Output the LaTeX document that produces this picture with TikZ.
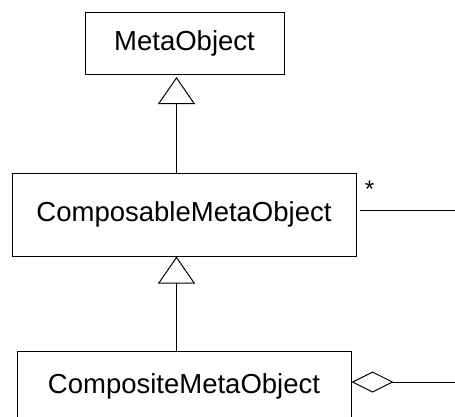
\documentclass[tikz,border=0pt]{standalone}
\usepackage{fontspec}
\setmainfont{Liberation Sans}
\usetikzlibrary{arrows.meta}
\begin{document}
\begin{tikzpicture}[x=1pt,y=-1pt,
  classbox/.style={draw, line width=1pt, fill=white, inner sep=0pt,
    font=\fontsize{27.5}{32}\selectfont},
  generalize/.style={line width=1pt,
    -{Triangle[open, length=27pt, width=37pt, fill=white]}},
  aggregate/.style={line width=1pt,
    {Diamond[open, length=42pt, width=21pt, fill=white]}-},
  assoc/.style={line width=1pt},
  mult/.style={font=\fontsize{24}{26}\selectfont, inner sep=0pt}]
  \clip (0,0) rectangle (455,416);
  \useasboundingbox (0,0) rectangle (455,416);

  % class boxes
  \node[classbox, minimum width=199pt, minimum height=62pt] (meta) at (184.5,43) {MetaObject};
  \node[classbox, minimum width=344pt, minimum height=83pt] (composable) at (184,214.5) {ComposableMetaObject};
  \node[classbox, minimum width=334pt, minimum height=70pt] (composite) at (184,386) {CompositeMetaObject};

  % generalization arrows, drawn on a common vertical
  \coordinate (spine) at (176.5,0);
  \draw[generalize, shorten >=2.5pt] (composable.north -| spine) -- (meta.south -| spine);
  \draw[generalize] (composite.north -| spine) -- (composable.south -| spine);

  % outgoing association ends
  \coordinate (compEnd) at (455,210);
  \coordinate (aggEnd) at (455,382);
  \draw[assoc, shorten <=3pt] (composable.east |- compEnd) -- (compEnd);
  \node[mult] (star) at (369.5,189) {*};
  \draw[aggregate] (composite.east |- aggEnd) -- (aggEnd);
\end{tikzpicture}
\end{document}
